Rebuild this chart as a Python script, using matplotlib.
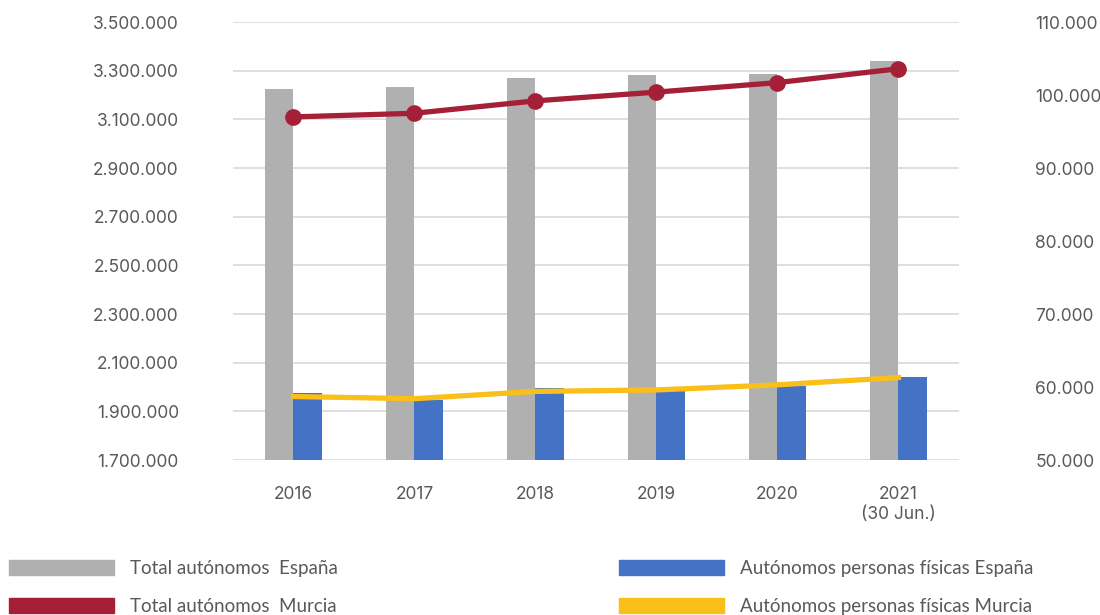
import matplotlib.pyplot as plt
import matplotlib.patches as patches
import matplotlib.ticker as ticker
import numpy as np

# ------------------- DATA ------------------- #

years = ["2016", "2017", "2018", "2019", "2020", "2021\n(30 Jun.)"]

total_espana = [3224000, 3232000, 3270000, 3283000, 3286000, 3340000]
fisicas_espana = [1974000, 1947000, 1995000, 1998000, 2004000, 2040000]
total_murcia = [97000, 97500, 99200, 100400, 101700, 103600]
fisicas_murcia = [58700, 58400, 59400, 59600, 60300, 61300]

left_ticks = [1700000, 1900000, 2100000, 2300000, 2500000, 2700000,
              2900000, 3100000, 3300000, 3500000]
right_ticks = [50000, 60000, 70000, 80000, 90000, 100000, 110000]

# ------------------- STYLE ------------------- #

GRAY = "#b1b0b0"
BLUE = "#4472c4"
RED = "#a52036"
YELLOW = "#fbbf1a"
TEXT = "#595959"
GRID = "#dcdcdc"

TICK_FONT = ['Inter', 'DejaVu Sans']
plt.rcParams['font.family'] = ['Lato', 'DejaVu Sans']


def fmt(v, pos=None):
    return f"{int(v):,}".replace(",", ".")


fig = plt.figure(figsize=(11, 6.15), dpi=100)
ax = fig.add_axes([0.2118, 0.252, 0.8718 - 0.2118, 0.9642 - 0.252])

x = np.arange(len(years))
w = 0.235

ax.bar(x - w / 2, total_espana, width=w, color=GRAY, zorder=2,
       label="Total autónomos  España")
ax.bar(x + w / 2, fisicas_espana, width=w, color=BLUE, zorder=2,
       label="Autónomos personas físicas España")

ax.set_xlim(-0.5, len(years) - 0.5)
ax.set_ylim(1700000, 3500000)
ax.set_yticks(left_ticks)
ax.yaxis.set_major_formatter(ticker.FuncFormatter(fmt))
ax.grid(axis='y', color=GRID, linewidth=1.3, zorder=0)
ax.set_xticks(x)
ax.set_xticklabels(years)
ax.tick_params(axis='y', length=0, pad=39, labelsize=12.5, labelcolor=TEXT)
ax.tick_params(axis='x', length=0, pad=19, labelsize=12.5, labelcolor=TEXT)
for s in ax.spines.values():
    s.set_visible(False)

ax2 = ax.twinx()
ax2.plot(x, total_murcia, color=RED, linewidth=3.8, marker='o',
         markersize=11, zorder=3, label="Total autónomos  Murcia")
ax2.plot(x, fisicas_murcia, color=YELLOW, linewidth=3.8, zorder=3,
         label="Autónomos personas físicas Murcia")
ax2.set_ylim(50000, 110000)
ax2.set_yticks(right_ticks)
ax2.yaxis.set_major_formatter(ticker.FuncFormatter(fmt))
ax2.tick_params(axis='y', length=0, pad=55, labelsize=12.5, labelcolor=TEXT)
for s in ax2.spines.values():
    s.set_visible(False)

for lab in ax.get_xticklabels() + ax.get_yticklabels() + ax2.get_yticklabels():
    lab.set_family(TICK_FONT)

# ------------------- LEGEND ------------------- #

h1, l1 = ax.get_legend_handles_labels()
h2, l2 = ax2.get_legend_handles_labels()
colors = [GRAY, RED, BLUE, YELLOW]
labels = [l1[0], l2[0], l1[1], l2[1]]
proxies = [patches.Patch(color=c) for c in colors]

leg = fig.legend(proxies, labels, ncol=2, loc='upper left',
                 bbox_to_anchor=(0.008, 0.09), frameon=False,
                 fontsize=13.5, labelcolor=TEXT, handlelength=5.6,
                 handleheight=0.9, handletextpad=0.85, labelspacing=1.12,
                 columnspacing=15.0, borderaxespad=0, borderpad=0)

fig.savefig("out.png", dpi=100)
